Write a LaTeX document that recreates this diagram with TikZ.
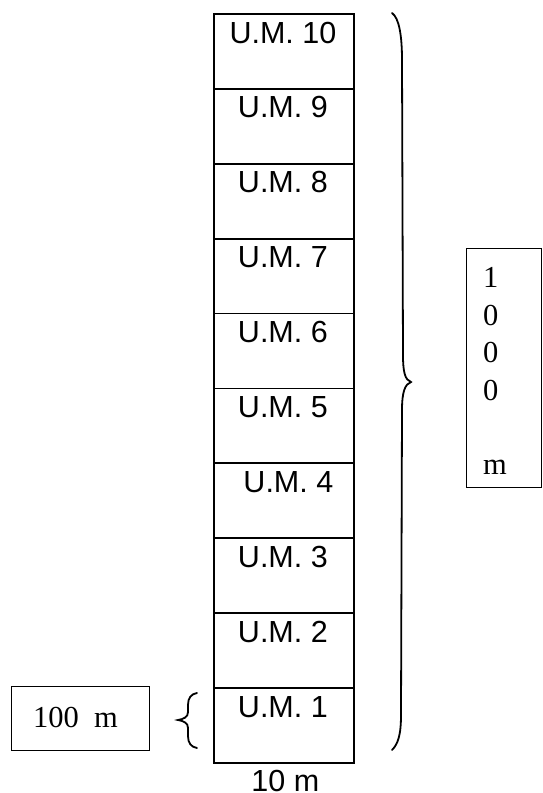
\documentclass[tikz,border=0pt]{standalone}
\usepackage{fontspec}
\setmainfont{Liberation Serif}
\setsansfont{Liberation Sans}
\begin{document}
\begin{tikzpicture}[x=1pt,y=-1pt,
  cell/.style={draw,line width=1.8pt,minimum width=140pt,minimum height=74.9pt,inner sep=0pt,anchor=north west},
  umlabel/.style={font=\sffamily\fontsize{30.5}{36}\selectfont,anchor=base,inner sep=0pt},
  serifnum/.style={font=\rmfamily\fontsize{30.5}{36}\selectfont,anchor=base west,inner sep=0pt},
  frame/.style={draw,line width=1.4pt,inner sep=0pt,anchor=north west},
  bracestroke/.style={line width=1.8pt,line cap=round}]
\useasboundingbox (0,0) rectangle (542,793);

% the column of ten units, numbered from the bottom
\foreach \i in {1,...,10} {
  \pgfmathsetmacro{\top}{762-74.9*\i}
  \node[cell] (cell\i) at (213,\top) {};
}
\foreach \i in {1,2,3,5,6,7,8,9,10} {
  \node[umlabel] (um\i) at ([xshift=-1pt,yshift=-30pt]cell\i.north) {U.M. \i};
}
\node[umlabel] (um4) at ([xshift=4.5pt,yshift=-30pt]cell4.north) {U.M. 4};

% width of the column
\node[umlabel] (width) at ([xshift=1.5pt,yshift=-28pt]cell1.south) {10 m};

% large brace spanning the whole column
\coordinate (btop) at (392,13);
\coordinate (btip) at (411,382);
\coordinate (bbot) at (392,750);
\draw[bracestroke] (btop) .. controls (399,18) and (402,35) .. (402,60)
  -- (403,355) .. controls (403,372) and (405,380) .. (btip)
  .. controls (405,384) and (402,392) .. (402,410)
  -- (401,715) .. controls (401,735) and (398,744) .. (bbot);

% total length box
\node[frame,minimum width=75pt,minimum height=239pt] (total) at (466,248) {};
\node[serifnum] (t1) at (483,287) {1};
\node[serifnum] (t2) at (483,325) {0};
\node[serifnum] (t3) at (483,362) {0};
\node[serifnum] (t4) at (483,400) {0};
\node[serifnum] (t5) at (483,474) {m};

% small brace for the first unit
\coordinate (stop) at (197,693);
\coordinate (stip) at (178,720);
\coordinate (sbot) at (197,748);
\draw[bracestroke] (stop) .. controls (191,694) and (188,698) .. (188,705)
  -- (188,712) .. controls (188,717) and (184,719) .. (stip)
  .. controls (184,721) and (188,723) .. (188,728)
  -- (188,736) .. controls (188,743) and (191,747) .. (sbot);

% unit length box
\node[frame,minimum width=138pt,minimum height=64pt] (unit) at (11,686) {};
\node[serifnum] (unittext) at (33,727) {100\ \ m};
\end{tikzpicture}
\end{document}
